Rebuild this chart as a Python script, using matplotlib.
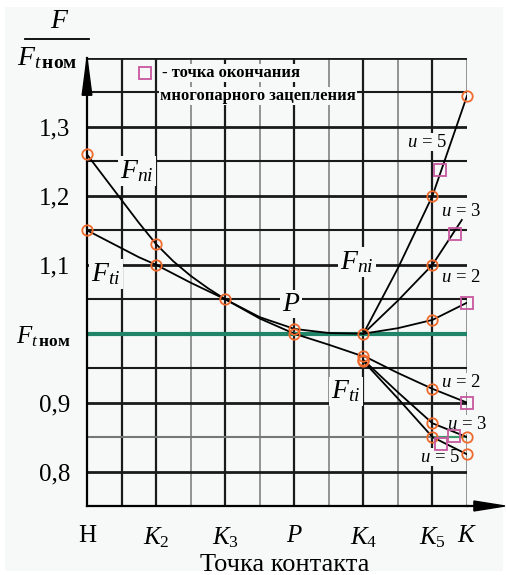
import matplotlib
matplotlib.use("Agg")
import matplotlib.pyplot as plt
from matplotlib.patches import Polygon, Rectangle

plt.rcParams['font.family'] = ['Liberation Serif', 'DejaVu Serif']
plt.rcParams['mathtext.fontset'] = 'custom'
plt.rcParams['mathtext.rm'] = 'Liberation Serif'
plt.rcParams['mathtext.it'] = 'Liberation Serif:italic'
plt.rcParams['mathtext.bf'] = 'Liberation Serif:bold'

# точки контакта (индексы по оси x)
x_tick_pos = [0, 2, 4, 6, 8, 10, 11]
x_tick_lbl = ['Н', '$K_2$', '$K_3$', '$P$', '$K_4$', '$K_5$', '$K$']
y_tick_pos = [0.8, 0.9, 1.0, 1.1, 1.2, 1.3]
y_tick_lbl = ['0,8', '0,9', r'$F_{t\,\mathbf{ном}}$', '1,1', '1,2', '1,3']

# общий участок H..K4
x_main = [0, 0.5, 1, 1.5, 2, 2.5, 3, 3.5, 4, 5, 6, 7, 8]
f_ni = [1.26, 1.227, 1.194, 1.161, 1.13, 1.105, 1.084, 1.066, 1.05,
        1.024, 1.007, 1.001, 1.0]
f_ti = [1.15, 1.137, 1.124, 1.111, 1.10, 1.087, 1.074, 1.062, 1.05,
        1.022, 1.0, 0.984, 0.967]

# ветви после K4 для разных u
x_br = [8, 9, 10, 11]
x_br_ni3 = [8, 9, 10, 10.85]
f_ni_u5 = [1.0, 1.095, 1.2, 1.345]
f_ni_u3 = [1.0, 1.048, 1.1, 1.165]
f_ni_u2 = [1.0, 1.008, 1.02, 1.045]
f_ti_u2 = [0.968, 0.943, 0.92, 0.90]
f_ti_u3 = [0.962, 0.915, 0.87, 0.85]
f_ti_u5 = [0.960, 0.906, 0.85, 0.825]

# отмеченные точки (кружки)
circ_x = [0, 2, 4, 6, 8, 10, 10, 10, 11,
          0, 2, 6, 8, 8, 8, 10, 10, 10, 11, 11]
circ_y = [1.26, 1.13, 1.05, 1.007, 1.0, 1.2, 1.1, 1.02, 1.345,
          1.15, 1.10, 1.0, 0.968, 0.962, 0.960, 0.92, 0.87, 0.85, 0.85, 0.825]

# точки окончания многопарного зацепления (квадраты)
sq_x = [10.23, 10.64, 11, 11, 10.62, 10.26]
sq_y = [1.238, 1.145, 1.045, 0.90, 0.852, 0.84]

fig = plt.figure(figsize=(5.07, 5.75), dpi=100, facecolor='white')
fig.patches.append(Rectangle((5 / 507, 4 / 575), 498 / 507, 564 / 575,
                             transform=fig.transFigure, facecolor='#f7f9f9',
                             edgecolor='none', zorder=-10))
ax = fig.add_axes([87 / 507, 69 / 575, 380 / 507, 448 / 575])
ax.set_facecolor('none')
ax.set_xlim(0, 11)
ax.set_ylim(0.75, 1.4)

# сетка
for i in range(1, 12):
    col = '#777777' if i % 2 == 1 and i > 1 else '#1a1a1a'
    lw = 1.1 if col == '#777777' else 1.6
    if i == 11:
        ax.plot([i, i], [0.75, 1.05], color=col, lw=lw, zorder=1)
        ax.plot([i, i], [1.345, 1.4], color=col, lw=lw, zorder=1)
    else:
        ax.axvline(i, color=col, lw=lw, zorder=1)
for j in range(1, 14):
    yv = 0.75 + 0.05 * j
    if abs(yv - 1.0) < 1e-6:
        continue
    col = '#777777' if abs(yv - 0.85) < 1e-6 else '#1a1a1a'
    lw = 2.0 if abs(yv * 10 - round(yv * 10)) < 1e-6 else 1.5
    ax.axhline(yv, color=col, lw=lw, zorder=1)
ax.plot([10, 11], [0.85, 0.85], color='#3c9a6a', lw=1.5, zorder=1.5)
ax.axhline(1.0, color='#1f8468', lw=3, zorder=2)

# кривые
kw = dict(color='black', lw=1.3, zorder=4)
ax.plot(x_main, f_ni, **kw)
ax.plot(x_main, f_ti, **kw)
ax.plot(x_br, f_ni_u5, **kw)
ax.plot(x_br_ni3, f_ni_u3, **kw)
ax.plot(x_br, f_ni_u2, **kw)
ax.plot(x_br, f_ti_u2, **kw)
ax.plot(x_br, f_ti_u3, **kw)
ax.plot(x_br, f_ti_u5, **kw)

ax.plot(circ_x, circ_y, 'o', ms=7.5, mfc='none', mec='#f06a2c', mew=1.3,
        zorder=5, clip_on=False)
ax.plot(sq_x, sq_y, 's', ms=8, mfc='none', mec='#c8589f', mew=1.3,
        zorder=5, clip_on=False)

# подписи кривых
box = dict(facecolor='#f7f9f9', edgecolor='none', pad=1.5)
ax.text(1.45, 1.236, '$F_{ni}$', fontsize=20, ha='center', va='center', bbox=box, zorder=3)
ax.text(0.55, 1.087, '$F_{ti}$', fontsize=20, ha='center', va='center', bbox=box, zorder=3)
ax.text(7.82, 1.104, '$F_{ni}$', fontsize=20, ha='center', va='center', bbox=box, zorder=3)
ax.text(5.9, 1.043, '$P$', fontsize=20, ha='center', va='center', bbox=box, zorder=3)
ax.text(7.5, 0.916, '$F_{ti}$', fontsize=20, ha='center', va='center', bbox=box, zorder=3)
for (tx, ty, s) in [(9.84, 1.278, '5'), (10.83, 1.177, '3'), (10.83, 1.081, '2'),
                    (10.83, 0.929, '2'), (11.0, 0.868, '3'), (10.22, 0.821, '5')]:
    ax.text(tx, ty, '$u$ = ' + s, fontsize=13.5, ha='center', va='center',
            bbox=dict(facecolor='#f7f9f9', edgecolor='none', pad=0.5), zorder=3)

# оси
for s in ['top', 'right']:
    ax.spines[s].set_visible(False)
ax.spines['left'].set_linewidth(1.6)
ax.spines['bottom'].set_linewidth(1.6)
ax.plot([11, 11.25], [0.75, 0.75], color='black', lw=1.6, clip_on=False)
ax.add_patch(Polygon([[11.2, 0.7428], [11.2, 0.7572], [12.1, 0.75]], closed=True,
                     color='black', clip_on=False, zorder=6))
ax.add_patch(Polygon([[-0.14, 1.346], [0.14, 1.346], [0, 1.4]], closed=True,
                     color='black', clip_on=False, zorder=6))

ax.set_xticks(x_tick_pos)
ax.set_xticklabels(x_tick_lbl, fontsize=18)
ax.set_yticks(y_tick_pos)
ax.set_yticklabels(y_tick_lbl, fontsize=18)
ax.tick_params(length=0)
ax.tick_params(axis='x', pad=14)
ax.tick_params(axis='y', pad=12)
fig.text(285 / 507, 1 - 565 / 575, 'Точка контакта', fontsize=19,
         ha='center', va='center')

# подпись оси y в виде дроби
fig.text(60 / 507, 1 - 22 / 575, '$F$', fontsize=20, ha='center', va='center')
fig.add_artist(plt.Line2D([25 / 507, 89 / 507], [1 - 39 / 575, 1 - 39 / 575],
                          color='black', lw=1.3))
fig.text(17 / 507, 1 - 58 / 575, r'$F_{t\,\mathbf{ном}}$', fontsize=20,
         ha='left', va='center')

# легенда
fig.add_artist(plt.Line2D([145 / 507], [1 - 73 / 575], marker='s', ms=8,
                          mfc='none', mec='#c8589f', mew=1.3))
fig.text(162 / 507, 1 - 73 / 575, '- точка окончания', fontsize=12,
         fontweight='bold', ha='left', va='center',
         bbox=dict(facecolor='#f7f9f9', edgecolor='none', pad=1))
fig.text(160 / 507, 1 - 96 / 575, 'многопарного зацепления', fontsize=12,
         fontweight='bold', ha='left', va='center',
         bbox=dict(facecolor='#f7f9f9', edgecolor='none', pad=1))

fig.savefig('out.png', dpi=100, facecolor=fig.get_facecolor())
